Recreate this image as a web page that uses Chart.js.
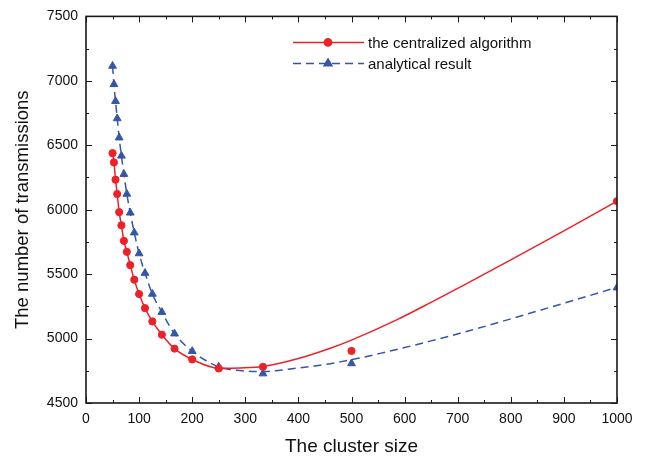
<!DOCTYPE html>
<html>
<head>
<meta charset="utf-8">
<script src="https://cdn.jsdelivr.net/npm/chart.js@4/dist/chart.umd.min.js"></script>
<style>
    body { margin: 0; background: #fff; }
    canvas { display: block; }
</style>
</head>
<body>
<canvas id="canvasTrasmissioni" width="656" height="465"></canvas>
<script>
// cluster sizes where the markers sit
const clusterSizes = [50, 52.6, 55.6, 58.8, 62.5, 66.7, 71.4, 76.9, 83.3, 90.9,
    100, 111.1, 125, 142.9, 166.7, 200, 250, 333.3, 500, 1000]
const centralized = [6439, 6367, 6233, 6122, 5981, 5879, 5758, 5673, 5570, 5457,
    5346, 5236, 5133, 5030, 4922, 4838, 4768, 4781, 4904, 6066]
const analytical = [7115, 6973, 6842, 6708, 6559, 6418, 6276, 6122, 5976, 5822,
    5660, 5508, 5346, 5205, 5038, 4902, 4781, 4728, 4807, 5395]

// smooth fitted curves
const centralizedCurveX = [50, 52.6, 55.6, 58.8, 62.5, 66.7, 71.4, 76.9, 83.3, 90.9,
    100, 111.1, 125, 142.9, 166.7, 200, 250, 290, 333.3, 400, 460, 500, 585, 648, 723, 800, 900, 1000]
const centralizedCurveY = [6439, 6367, 6233, 6122, 5981, 5879, 5758, 5673, 5570, 5457,
    5346, 5236, 5133, 5030, 4922, 4838, 4770, 4772, 4783, 4845, 4925, 4988, 5145, 5277, 5440, 5610, 5835, 6066]
const analyticalCurveX = [50, 52.6, 55.6, 58.8, 62.5, 66.7, 71.4, 76.9, 83.3, 90.9,
    100, 111.1, 125, 142.9, 166.7, 200, 250, 290, 333.3, 397, 460, 500, 554, 648, 723, 849, 1000]
const analyticalCurveY = [7115, 6973, 6842, 6708, 6559, 6418, 6276, 6122, 5976, 5822,
    5660, 5508, 5346, 5205, 5038, 4902, 4781, 4752, 4745, 4770, 4805, 4836, 4885, 4980, 5062, 5212, 5397]

const xTicks = { min: 0, max: 1000, step: 100, minor: 50 }
const yTicks = { min: 4500, max: 7500, step: 500, minor: 250 }

const rosso = '#ec2228'
const blu = '#3555a8'
const font = "'Liberation Sans', Arial, sans-serif"

function punti(xs, ys) {
    return xs.map((x, i) => ({ x: x, y: ys[i] }))
}

// box round the plot with inward ticks on all four sides
const cornice = {
    id: 'cornice',
    afterDraw(chart) {
        const ctx = chart.ctx
        const a = chart.chartArea
        const x = chart.scales.x
        const y = chart.scales.y
        ctx.save()
        ctx.strokeStyle = '#1a1a1a'
        ctx.lineWidth = 1
        ctx.beginPath()
        for (let v = xTicks.min; v <= xTicks.max; v += xTicks.minor) {
            let px = Math.round(x.getPixelForValue(v)) + 0.5
            let l = v % xTicks.step == 0 ? 6 : 3
            ctx.moveTo(px, a.bottom); ctx.lineTo(px, a.bottom - l)
            ctx.moveTo(px, a.top); ctx.lineTo(px, a.top + l)
        }
        for (let v = yTicks.min; v <= yTicks.max; v += yTicks.minor) {
            let py = Math.round(y.getPixelForValue(v)) + 0.5
            let l = v % yTicks.step == 0 ? 6 : 3
            ctx.moveTo(a.left, py); ctx.lineTo(a.left + l, py)
            ctx.moveTo(a.right, py); ctx.lineTo(a.right - l, py)
        }
        ctx.stroke()
        ctx.lineWidth = 1.6
        ctx.strokeRect(a.left, a.top, a.right - a.left, a.bottom - a.top)
        ctx.restore()
    }
}

// legend: curve line with its marker in the middle
const legenda = {
    id: 'legenda',
    afterDraw(chart) {
        const ctx = chart.ctx
        const a = chart.chartArea
        const ds = chart.data.datasets
        let riga = 0
        ctx.save()
        for (let i = 0; i < ds.length; i++) {
            if (ds[i].showLine !== false) continue
            let curva = ds[i - 1]
            let x0 = a.left + 207
            let y0 = a.top + 26 + riga * 21
            ctx.strokeStyle = curva.borderColor
            ctx.lineWidth = curva.borderWidth
            ctx.setLineDash(curva.borderDash || [])
            ctx.beginPath()
            ctx.moveTo(x0, y0)
            ctx.lineTo(x0 + 71, y0)
            ctx.stroke()
            ctx.setLineDash([])
            ctx.fillStyle = ds[i].backgroundColor
            ctx.strokeStyle = ds[i].borderColor
            Chart.helpers.drawPoint(ctx, {
                pointStyle: ds[i].pointStyle,
                radius: ds[i].pointRadius,
                rotation: 0,
                borderWidth: 1
            }, x0 + 35, y0)
            ctx.fillStyle = '#111'
            ctx.font = `15px ${font}`
            ctx.textBaseline = 'middle'
            ctx.fillText(ds[i].label, x0 + 75, y0 + 1)
            riga++
        }
        ctx.restore()
    }
}

$ = (s) => document.querySelector(s)

new Chart(
    $('#canvasTrasmissioni'),
    {
        type: 'scatter',
        data: {
            datasets: [
                {
                    data: punti(centralizedCurveX, centralizedCurveY),
                    showLine: true,
                    cubicInterpolationMode: 'monotone',
                    borderColor: rosso,
                    borderWidth: 1.5,
                    pointRadius: 0,
                    clip: 0,
                },
                {
                    label: 'the centralized algorithm',
                    data: punti(clusterSizes, centralized),
                    showLine: false,
                    pointStyle: 'circle',
                    pointRadius: 3.6,
                    backgroundColor: rosso,
                    borderColor: rosso,
                    borderWidth: 1,
                    clip: 0,
                },
                {
                    data: punti(analyticalCurveX, analyticalCurveY),
                    showLine: true,
                    cubicInterpolationMode: 'monotone',
                    borderColor: blu,
                    borderWidth: 1.5,
                    borderDash: [8, 5],
                    pointRadius: 0,
                    clip: 0,
                },
                {
                    label: 'analytical result',
                    data: punti(clusterSizes, analytical),
                    showLine: false,
                    pointStyle: 'triangle',
                    pointRadius: 4.5,
                    backgroundColor: blu,
                    borderColor: blu,
                    borderWidth: 1,
                    clip: 0,
                },
            ]
        },
        options: {
            responsive: false,
            animation: false,
            layout: { padding: { left: 0, right: 39, top: 14, bottom: 0 } },
            plugins: {
                legend: { display: false },
                tooltip: { enabled: false },
            },
            scales: {
                x: {
                    type: 'linear',
                    min: xTicks.min,
                    max: xTicks.max,
                    grid: { display: false, drawTicks: false },
                    border: { display: false },
                    ticks: {
                        stepSize: xTicks.step,
                        padding: 8,
                        color: '#111',
                        font: { family: font, size: 14 },
                        maxRotation: 0,
                        callback: (v) => String(v),
                    },
                    title: {
                        display: true,
                        text: 'The cluster size',
                        color: '#111',
                        font: { family: font, size: 19 },
                        padding: { top: 0, bottom: 7 },
                    },
                    afterFit: function (s) { s.height = 62 },
                },
                y: {
                    type: 'linear',
                    min: yTicks.min,
                    max: yTicks.max,
                    grid: { display: false, drawTicks: false },
                    border: { display: false },
                    ticks: {
                        stepSize: yTicks.step,
                        padding: 8,
                        color: '#111',
                        font: { family: font, size: 14 },
                        callback: (v) => String(v),
                    },
                    title: {
                        display: true,
                        text: 'The number of transmissions',
                        color: '#111',
                        font: { family: font, size: 18.5 },
                        padding: { top: 12, bottom: 0 },
                    },
                    afterFit: function (s) { s.width = 86 },
                },
            },
        },
        plugins: [cornice, legenda],
    }
)
</script>
</body>
</html>
